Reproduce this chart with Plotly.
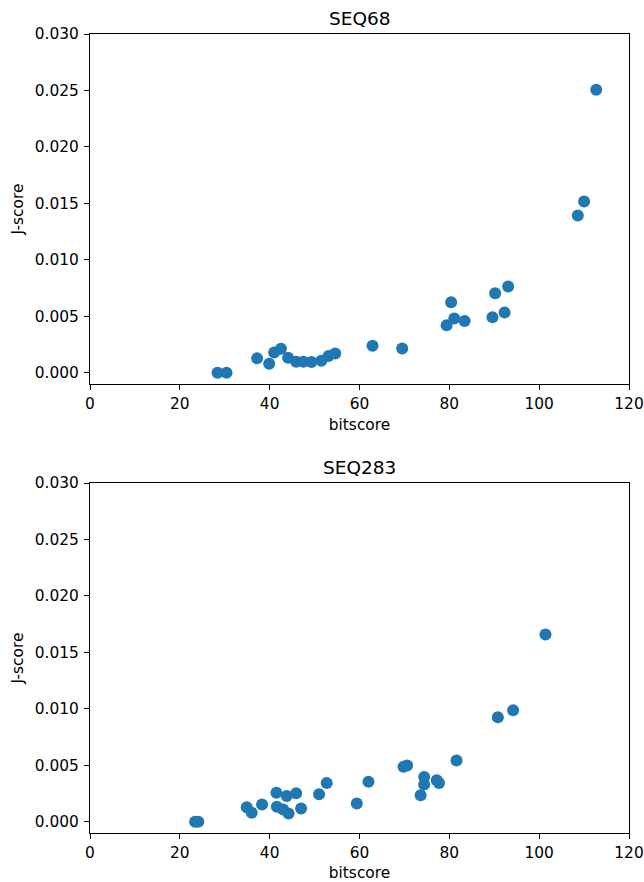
import plotly.graph_objects as go
from plotly.subplots import make_subplots

seq68_bitscore = [28.4, 30.4, 37.2, 39.9, 41.0, 42.5, 44.1, 45.9, 47.5, 49.3, 51.5, 53.1, 54.6,
                  62.9, 69.5, 79.4, 80.4, 81.1, 83.4, 89.6, 90.2, 92.3, 93.1, 108.6, 110.0, 112.7]
seq68_jscore = [0.0, 0.0, 0.00127, 0.0008, 0.0018, 0.00212, 0.00133, 0.00097, 0.00097, 0.00094,
                0.00106, 0.00147, 0.00171, 0.00239, 0.00215, 0.00421, 0.00625, 0.00481, 0.00457,
                0.00492, 0.00704, 0.00534, 0.00764, 0.01392, 0.01516, 0.02507]

seq283_bitscore = [23.4, 24.1, 34.9, 36.0, 38.3, 41.5, 41.6, 43.0, 43.8, 44.2, 45.9, 47.0, 51.0,
                   52.7, 59.4, 62.0, 69.8, 70.6, 73.6, 74.4, 74.4, 77.2, 77.7, 81.6, 90.8, 94.2, 101.4]
seq283_jscore = [0.0, 0.0, 0.00129, 0.0008, 0.00153, 0.00257, 0.00133, 0.00109, 0.00227, 0.00073,
                 0.00253, 0.00118, 0.00244, 0.00342, 0.00162, 0.00354, 0.00487, 0.00498, 0.00235,
                 0.00395, 0.0033, 0.00368, 0.00342, 0.00542, 0.00926, 0.00988, 0.01658]

titles = ["SEQ68", "SEQ283"]
x_ticks = [0, 20, 40, 60, 80, 100, 120]
y_ticks = [0.0, 0.005, 0.010, 0.015, 0.020, 0.025, 0.030]

W, H = 644, 882
ml, mr, mt, mb = 90, 15, 34, 49
plot_h = H - mt - mb
ax_h = 350
gap = (plot_h - 2 * ax_h) / plot_h

fig = make_subplots(rows=2, cols=1, vertical_spacing=gap)
color = "#1f77b4"
font = "DejaVu Sans, sans-serif"
fs = 15.4

for i, (xs, ys) in enumerate([(seq68_bitscore, seq68_jscore), (seq283_bitscore, seq283_jscore)]):
    fig.add_trace(go.Scatter(x=xs, y=ys, mode="markers",
                             marker=dict(color=color, size=12, line=dict(width=0)),
                             showlegend=False, hoverinfo="skip"), row=i + 1, col=1)
    axis_common = dict(showline=True, mirror=True, linecolor="black", linewidth=1.1,
                       ticks="outside", ticklen=5, tickwidth=1.1, tickcolor="black",
                       showgrid=False, zeroline=False, automargin=False,
                       tickfont=dict(family=font, size=fs, color="black"))
    fig.update_xaxes(range=[0, 120], tickvals=x_ticks,
                     title=dict(text="bitscore", font=dict(family=font, size=fs, color="black"), standoff=7),
                     row=i + 1, col=1, **axis_common)
    fig.update_yaxes(range=[-0.001, 0.030], tickvals=y_ticks, tickformat=".3f", ticklabelstandoff=2,
                     title=dict(text="J-score", font=dict(family=font, size=fs, color="black"), standoff=7),
                     row=i + 1, col=1, **axis_common)

top_domains = [1.0, ax_h / plot_h]
for t, yd in zip(titles, top_domains):
    fig.add_annotation(text=t, x=0.5, xref="paper", y=yd, yref="paper",
                       xanchor="center", yanchor="bottom", yshift=3, showarrow=False,
                       font=dict(family=font, size=18.5, color="black"))

fig.update_layout(width=W, height=H, margin=dict(l=ml, r=mr, t=mt, b=mb),
                  plot_bgcolor="white", paper_bgcolor="white")

fig.write_html("out.html", config={"displayModeBar": False},
               post_script="document.body.style.margin='0';document.body.style.overflow='hidden';")
